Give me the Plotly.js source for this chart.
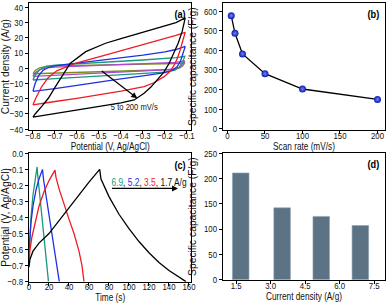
<!DOCTYPE html>
<html><head><meta charset="utf-8">
<script src="https://cdn.plot.ly/plotly-3.0.1.min.js"></script>
<style>html,body{margin:0;padding:0;background:#fff}#plot{width:387px;height:304px}</style>
</head><body><div id="plot"></div>
<script>
// ---------- (a) cyclic voltammetry: potential (V) / current density (A/g) ----------
const cv200_x = [-0.8,-0.79,-0.76,-0.73,-0.7,-0.67,-0.63,-0.56,-0.47,-0.4,-0.3,-0.2,-0.15,-0.108,
                 -0.122,-0.14,-0.16,-0.181,-0.205,-0.234,-0.265,-0.295,-0.34,-0.4,-0.5,-0.6,-0.7,-0.8];
const cv200_y = [-32,-30,-25,-19.7,-12.5,-5.5,3.3,10.9,16.4,19.5,23.5,27.5,30,33,
                 24,16.4,9.5,3.3,-2.5,-7.7,-12.5,-16.4,-20.8,-22.7,-25,-27.2,-29.5,-32];
const cv100_x = [-0.8,-0.785,-0.76,-0.73,-0.69,-0.64,-0.6,-0.5,-0.4,-0.3,-0.2,-0.15,-0.108,
                 -0.12,-0.132,-0.145,-0.16,-0.18,-0.204,-0.25,-0.295,-0.4,-0.5,-0.6,-0.7,-0.8];
const cv100_y = [-24,-19,-12,-6,-1.5,1.5,3.6,7.4,11.4,15.5,19.6,21.6,23.6,
                 17,11.5,6,1.5,-2.5,-5.5,-9.5,-12,-15,-17.5,-19.7,-21.8,-24];
const cv50_x = [-0.8,-0.79,-0.775,-0.755,-0.73,-0.7,-0.6,-0.5,-0.4,-0.3,-0.2,-0.15,-0.108,
                -0.118,-0.13,-0.145,-0.165,-0.2,-0.25,-0.3,-0.4,-0.5,-0.6,-0.7,-0.8];
const cv50_y = [-15,-10,-5,-1.5,0.5,1.6,3.4,5,6.8,8.6,10.8,12.3,14.3,
                9,4.5,1,-1.2,-2.8,-4,-5,-7,-9.2,-11.3,-13.3,-15.2];
const cv20_x = [-0.8,-0.79,-0.77,-0.74,-0.7,-0.6,-0.5,-0.4,-0.3,-0.2,-0.15,-0.11,
                -0.12,-0.135,-0.155,-0.2,-0.3,-0.4,-0.5,-0.6,-0.7,-0.8];
const cv20_y = [-7.7,-4.5,-1,1.2,2,3,3.8,4.6,5.4,6.3,7,7.8,
                4,0.8,-1.3,-2.5,-3.5,-4.3,-5.1,-6,-6.8,-7.7];
const cv10_x = [-0.8,-0.79,-0.77,-0.74,-0.7,-0.6,-0.4,-0.2,-0.15,-0.11,
                -0.12,-0.135,-0.16,-0.2,-0.3,-0.4,-0.5,-0.6,-0.7,-0.8];
const cv10_y = [-5.3,-3,-1,0.3,0.8,1.4,2.4,3.4,3.9,4.8,
                2.5,0.6,-0.5,-1.1,-1.8,-2.5,-3.2,-3.9,-4.6,-5.3];
const cv5_x = [-0.8,-0.79,-0.77,-0.74,-0.7,-0.6,-0.4,-0.2,-0.15,-0.11,
               -0.12,-0.135,-0.16,-0.2,-0.3,-0.4,-0.5,-0.6,-0.7,-0.8];
const cv5_y = [-3.6,-1.5,0.3,1.3,1.6,1.9,2.3,2.8,3.1,3.6,
               1.5,0.1,-0.7,-1,-1.4,-1.8,-2.2,-2.6,-3.1,-3.6];

// ---------- (b) specific capacitance vs scan rate ----------
const scanRates = [5, 10, 20, 50, 100, 200];
const capScan = [577, 487, 382, 281, 203, 150];

// ---------- (c) galvanostatic charge-discharge: time (s) / potential (V) ----------
const gcd69_t = [0,1,2,4,6,8.1, 8.8,11,14,17,19.5];
const gcd69_v = [-0.65,-0.5,-0.4,-0.26,-0.16,-0.085, -0.14,-0.27,-0.45,-0.63,-0.8];
const gcd52_t = [0,1,2,4,7,10,13.5, 14.5,18,22,26,30.3];
const gcd52_v = [-0.62,-0.5,-0.43,-0.33,-0.23,-0.16,-0.1, -0.16,-0.3,-0.46,-0.62,-0.8];
const gcd35_t = [0,1,3,6,10,15,20,26, 27,30,35,40,45,50,53,55];
const gcd35_v = [-0.68,-0.6,-0.52,-0.43,-0.33,-0.24,-0.17,-0.105, -0.15,-0.22,-0.32,-0.41,-0.5,-0.61,-0.7,-0.8];
const gcd17_t = [0,1,4,10,20,30,40,50,60,70.7, 72,80,90,100,110,120,130,140,150,157];
const gcd17_v = [-0.71,-0.66,-0.61,-0.56,-0.5,-0.42,-0.34,-0.255,-0.18,-0.1, -0.16,-0.27,-0.38,-0.47,-0.55,-0.62,-0.68,-0.73,-0.77,-0.8];

// ---------- (d) specific capacitance vs current density ----------
const currentDensity = [1.7, 3.5, 5.2, 6.9];
const capCurrent = [211, 142, 125, 107];
const dTickVals = [1.5, 3.0, 4.5, 6.0, 7.5];
const dTickText = ['1.5', '3.0', '4.5', '6.0', '7.5'];

const FONT = 'Liberation Sans, Arial, sans-serif';
const SQUEEZE = 0.8;   // the reference's horizontal text is condensed

const lineTrace = (x, y, color, xa, ya, w) => ({x, y, type:'scatter', mode:'lines',
  line:{color, width:w||1.3}, xaxis:xa, yaxis:ya, hoverinfo:'skip'});

const data = [
  lineTrace(cv5_x, cv5_y, '#7f8c1a', 'x', 'y'),
  lineTrace(cv10_x, cv10_y, '#b048d8', 'x', 'y'),
  lineTrace(cv20_x, cv20_y, '#17997a', 'x', 'y'),
  lineTrace(cv50_x, cv50_y, '#1f2fe6', 'x', 'y'),
  lineTrace(cv100_x, cv100_y, '#ee1c24', 'x', 'y'),
  lineTrace(cv200_x, cv200_y, '#000000', 'x', 'y'),
  {x:scanRates, y:capScan, type:'scatter', mode:'lines+markers', xaxis:'x2', yaxis:'y2',
   line:{color:'#000', width:1.3},
   marker:{size:7, color:'#0b1aa8', gradient:{type:'radial', color:'#6f84ff'}, line:{width:0}}},
  lineTrace(gcd69_t, gcd69_v, '#17997a', 'x3', 'y3'),
  lineTrace(gcd52_t, gcd52_v, '#1f2fe6', 'x3', 'y3'),
  lineTrace(gcd35_t, gcd35_v, '#ee1c24', 'x3', 'y3'),
  lineTrace(gcd17_t, gcd17_v, '#000000', 'x3', 'y3'),
  {x:currentDensity, y:capCurrent, type:'bar', xaxis:'x4', yaxis:'y4', width:0.72,
   marker:{color:'#5b7385', line:{color:'#8ea3b3', width:0.6}}}
];

function ax(extra){
  return Object.assign({showline:true, linecolor:'#000', linewidth:1, mirror:true,
    ticks:'outside', ticklen:3, tickwidth:1, tickcolor:'#000', showgrid:false, zeroline:false,
    tickangle:0, tickfont:{family:FONT, size:9.8, color:'#111'}}, extra);
}
const XSTAND = -7;
function xt(text){ return {text, font:{family:FONT, size:10.3, color:'#111'}, standoff:0}; }
function yt(text){ return {text, font:{family:FONT, size:10.3, color:'#111'}, standoff:2}; }
function mirrorAx(over, anchor, side, range, extra){
  return Object.assign({overlaying:over, anchor, side, range, ticks:'inside', ticklen:3,
    tickwidth:1, tickcolor:'#000', showticklabels:false, showline:false, showgrid:false,
    zeroline:false}, extra);
}

const XA = [0.0749, 0.4948], XB = [0.5762, 0.9948];
const YTOP = [0.5724, 0.9891], YC = [0.0735, 0.4957], YD = [0.0789, 0.4957];

const rA = [-0.818, -0.0795], rAy = [-40.5, 42.6];
const rB = [-6, 210], rBy = [-6, 640];
const rC = [0, 162.5], rCy = [-0.8, 0];
const rD = [0.93, 7.97], rDy = [-1, 250];

const panelLbl = (xr, yr, t) => ({xref:xr+' domain', yref:yr+' domain', x:0.985, y:0.975,
  xanchor:'right', yanchor:'top', showarrow:false, text:'<b>'+t+'</b>',
  font:{family:FONT, size:11.5, color:'#000'}});

const layout = {
  width:387, height:304, margin:{l:0, r:0, t:0, b:0},
  paper_bgcolor:'#fff', plot_bgcolor:'#fff', showlegend:false,
  font:{family:FONT, size:9.8, color:'#111'},
  xaxis: ax({domain:XA, anchor:'y', range:rA, dtick:0.1, tick0:-0.8, tickformat:'.1f', ticklabelstandoff:XSTAND, title:xt('Potential (V, Ag/AgCl)')}),
  yaxis: ax({domain:YTOP, anchor:'x', range:rAy, dtick:10, tick0:0, title:yt('Current density (A/g)')}),
  xaxis2: ax({domain:XB, anchor:'y2', range:rB, dtick:50, tick0:0, ticklabelstandoff:XSTAND, title:xt('Scan rate (mV/s)')}),
  yaxis2: ax({domain:YTOP, anchor:'x2', range:rBy, dtick:100, tick0:0, title:yt('Specific capacitance (F/g)')}),
  xaxis3: ax({domain:XA, anchor:'y3', range:rC, dtick:20, tick0:0, ticklabelstandoff:XSTAND, title:xt('Time (s)')}),
  yaxis3: ax({domain:YC, anchor:'x3', range:rCy, dtick:0.1, tick0:0, tickformat:'.1f', title:yt('Potential (V, Ag/AgCl)')}),
  xaxis4: ax({domain:XB, anchor:'y4', range:rD, tickvals:dTickVals, ticktext:dTickText, ticklabelstandoff:XSTAND, title:xt('Current density (A/g)')}),
  yaxis4: ax({domain:YD, anchor:'x4', range:rDy, dtick:50, tick0:0, title:yt('Specific capacitance (F/g)')}),
  xaxis5: mirrorAx('x', 'y', 'top', rA, {dtick:0.1, tick0:-0.8}),
  yaxis5: mirrorAx('y', 'x', 'right', rAy, {dtick:10, tick0:0}),
  xaxis6: mirrorAx('x2', 'y2', 'top', rB, {dtick:50, tick0:0}),
  yaxis6: mirrorAx('y2', 'x2', 'right', rBy, {dtick:100, tick0:0}),
  xaxis7: mirrorAx('x3', 'y3', 'top', rC, {dtick:20, tick0:0}),
  yaxis7: mirrorAx('y3', 'x3', 'right', rCy, {dtick:0.1, tick0:0}),
  xaxis8: mirrorAx('x4', 'y4', 'top', rD, {tickvals:dTickVals}),
  yaxis8: mirrorAx('y4', 'x4', 'right', rDy, {dtick:50, tick0:0}),
  annotations: [
    panelLbl('x', 'y', '(a)'), panelLbl('x2', 'y2', '(b)'),
    panelLbl('x3', 'y3', '(c)'), panelLbl('x4', 'y4', '(d)'),
    {xref:'x', yref:'y', axref:'x', ayref:'y', x:-0.326, y:-19.7, ax:-0.494, ay:-1.1, text:'',
     showarrow:true, arrowhead:2, arrowsize:1, arrowwidth:1.2, arrowcolor:'#000'},
    {xref:'x', yref:'y', x:-0.34, y:-25.2, text:'5 to 200 mV/s', showarrow:false,
     font:{family:FONT, size:9.5, color:'#111'}},
    {xref:'x3', yref:'y3', axref:'x3', ayref:'y3', x:149, y:-0.219, ax:81.5, ay:-0.219, text:'',
     showarrow:true, arrowhead:2, arrowsize:1, arrowwidth:1.2, arrowcolor:'#000'},
    {xref:'x3', yref:'y3', x:120.5, y:-0.178, showarrow:false,
     text:'<span style="color:#17997a">6.9</span>, <span style="color:#1f2fe6">5.2</span>, <span style="color:#ee1c24">3.5</span>, 1.7 A/g',
     font:{family:FONT, size:10.5, color:'#111'}}
  ]
};

Plotly.newPlot('plot', data, layout, {staticPlot:true, displayModeBar:false}).then(() => {
  // condense horizontal texts to match the reference's narrow lettering (rotated titles untouched)
  document.querySelectorAll('#plot svg text').forEach(t => {
    const tr = t.getAttribute('transform') || '';
    if (/rotate\(\s*-?90/.test(tr)) return;
    if (t.querySelector('tspan')) {
      if (!tr) {
        t.style.transformBox = 'fill-box';
        t.style.transformOrigin = 'center';
        t.style.transform = 'scaleX(' + SQUEEZE + ')';
      }
      return;
    }
    const len = t.getComputedTextLength();
    if (len > 0) {
      t.setAttribute('textLength', (len * SQUEEZE).toFixed(2));
      t.setAttribute('lengthAdjust', 'spacingAndGlyphs');
    }
  });
});
</script>
</body></html>
